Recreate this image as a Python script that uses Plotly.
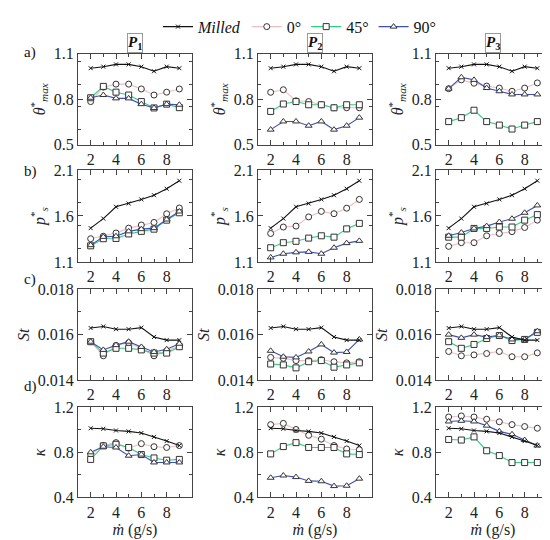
import plotly.graph_objects as go
from plotly.subplots import make_subplots

# mass flow rate (g/s)
m_dot = [2, 3, 4, 5, 6, 7, 8, 9]

# a) theta*_max
theta_milled = [1.005, 1.015, 1.03, 1.03, 1.015, 0.985, 1.015, 1.005]
theta_0 = [
    [0.785, 0.88, 0.90, 0.90, 0.868, 0.828, 0.847, 0.868],
    [0.846, 0.863, 0.79, 0.785, 0.764, 0.744, 0.744, 0.744],
    [0.87, 0.928, 0.906, 0.887, 0.874, 0.853, 0.874, 0.908],
]
theta_45 = [
    [0.81, 0.885, 0.847, 0.828, 0.785, 0.743, 0.768, 0.745],
    [0.72, 0.769, 0.785, 0.764, 0.764, 0.744, 0.764, 0.764],
    [0.653, 0.679, 0.728, 0.653, 0.63, 0.604, 0.63, 0.653],
]
theta_90 = [
    [0.81, 0.828, 0.806, 0.806, 0.768, 0.743, 0.768, 0.764],
    [0.60, 0.654, 0.654, 0.626, 0.654, 0.60, 0.626, 0.679],
    [0.87, 0.945, 0.928, 0.874, 0.853, 0.832, 0.832, 0.832],
]

# b) p*_s
ps_milled = [1.468, 1.572, 1.70, 1.736, 1.78, 1.826, 1.896, 1.983]
ps_0 = [
    [1.353, 1.38, 1.415, 1.468, 1.502, 1.53, 1.624, 1.687],
    [1.41, 1.48, 1.49, 1.59, 1.65, 1.625, 1.685, 1.78],
    [1.27, 1.31, 1.31, 1.385, 1.41, 1.43, 1.475, 1.555],
]
ps_45 = [
    [1.276, 1.353, 1.356, 1.405, 1.433, 1.457, 1.555, 1.635],
    [1.255, 1.31, 1.325, 1.36, 1.385, 1.37, 1.46, 1.52],
    [1.37, 1.37, 1.465, 1.465, 1.48, 1.48, 1.555, 1.615],
]
ps_90 = [
    [1.283, 1.373, 1.38, 1.433, 1.457, 1.468, 1.562, 1.649],
    [1.15, 1.19, 1.205, 1.21, 1.19, 1.255, 1.305, 1.33],
    [1.385, 1.42, 1.465, 1.49, 1.535, 1.57, 1.635, 1.715],
]

# c) St
st_milled = [0.01629, 0.01636, 0.01624, 0.01624, 0.01631, 0.0159, 0.01576, 0.01576]
st_0 = [
    [0.01569, 0.01507, 0.01553, 0.01564, 0.01539, 0.01507, 0.01529, 0.0155],
    [0.0150, 0.01496, 0.01486, 0.01486, 0.0149, 0.01481, 0.01476, 0.01481],
    [0.01526, 0.01507, 0.01511, 0.01517, 0.01526, 0.01503, 0.01503, 0.0152],
]
st_45 = [
    [0.01569, 0.01519, 0.0154, 0.0154, 0.01533, 0.01519, 0.01519, 0.01547],
    [0.01471, 0.01467, 0.01454, 0.01481, 0.01486, 0.01457, 0.01467, 0.01476],
    [0.01569, 0.0154, 0.01557, 0.01583, 0.01596, 0.01574, 0.01579, 0.0161],
]
st_90 = [
    [0.01569, 0.01533, 0.01554, 0.01569, 0.01546, 0.01524, 0.01536, 0.0156],
    [0.01529, 0.01503, 0.0150, 0.01526, 0.01557, 0.01521, 0.01524, 0.01579],
    [0.0160, 0.01586, 0.0160, 0.01589, 0.01597, 0.01579, 0.01579, 0.01615],
]

# d) kappa
k_milled = [1.014, 1.009, 0.994, 0.986, 0.971, 0.937, 0.90, 0.86]
k_0 = [
    [0.78, 0.86, 0.886, 0.837, 0.877, 0.85, 0.843, 0.86],
    [1.046, 1.057, 1.003, 0.951, 0.917, 0.86, 0.83, 0.823],
    [1.114, 1.123, 1.114, 1.094, 1.071, 1.046, 1.029, 1.014],
]
k_45 = [
    [0.737, 0.857, 0.871, 0.843, 0.78, 0.75, 0.73, 0.737],
    [0.786, 0.851, 0.886, 0.843, 0.843, 0.843, 0.786, 0.78],
    [0.914, 0.909, 0.937, 0.814, 0.771, 0.709, 0.709, 0.709],
]
k_90 = [
    [0.80, 0.85, 0.843, 0.77, 0.78, 0.71, 0.71, 0.71],
    [0.574, 0.594, 0.58, 0.546, 0.543, 0.50, 0.503, 0.566],
    [1.074, 1.08, 1.074, 1.037, 0.986, 0.96, 0.909, 0.86],
]

rows = [
    (theta_milled, theta_0, theta_45, theta_90),
    (ps_milled, ps_0, ps_45, ps_90),
    (st_milled, st_0, st_45, st_90),
    (k_milled, k_0, k_45, k_90),
]
y_titles = ["<i>θ</i><sup>*</sup><sub><i>max</i></sub>",
            "<i>p</i><sup>*</sup><sub><i>s</i></sub>",
            "<i>St</i>", "<i>κ</i>"]
y_ranges = [[0.5, 1.1], [1.1, 2.1], [0.014, 0.018], [0.4, 1.2]]
y_dticks = [0.3, 0.5, 0.002, 0.4]
y_formats = [".1f", ".1f", ".3f", ".1f"]
col_titles = ["1", "2", "3"]
row_tags = ["a)", "b)", "c)", "d)"]

names = ["<i>Milled</i>", "0°", "45°", "90°"]
line_colors = ["#111111", "#f2bcbc", "#2fcf7d", "#3d4fb8"]
symbols = ["x-thin", "circle", "square", "triangle-up"]

FONT = "Liberation Serif, Times New Roman, Times, serif"
W, H = 550, 540
col_px = [(70, 184), (250, 364), (428, 542)]
row_px = [(39, 133), (159, 254), (282, 376), (404, 497)]
tag_px = [27, 150, 272, 393]

fig = make_subplots(rows=4, cols=3)

for r, (milled, s0, s45, s90) in enumerate(rows):
    for c in range(3):
        series = [milled, s0[c], s45[c], s90[c]]
        # angled cases first, milled reference drawn on top
        for k in [1, 2, 3, 0]:
            if k == 0:
                marker = dict(symbol="x-thin", size=4,
                              line=dict(color="#111111", width=1))
            else:
                marker = dict(symbol=symbols[k], size=6, color="white",
                              line=dict(color="#333333", width=1))
            fig.add_trace(go.Scatter(
                x=m_dot, y=series[k], mode="lines+markers",
                name=names[k], legendgroup=names[k],
                legendrank=k + 1,
                showlegend=(r == 0 and c == 0),
                line=dict(color=line_colors[k], width=1.1),
                marker=marker,
            ), row=r + 1, col=c + 1)

        n = r * 3 + c + 1
        xa = "xaxis" if n == 1 else f"xaxis{n}"
        ya = "yaxis" if n == 1 else f"yaxis{n}"
        x0, x1 = col_px[c]
        y0, y1 = row_px[r]
        fig.layout[xa].update(
            domain=[x0 / W, x1 / W], range=[1, 10],
            tickvals=[2, 4, 6, 8], ticks="inside", ticklen=5,
            minor=dict(dtick=1, ticks="inside", ticklen=3, tickcolor="#444"),
            showline=True, linecolor="#444", linewidth=1.2, mirror="allticks",
            showgrid=False, zeroline=False, tickcolor="#444",
            tickfont=dict(family=FONT, size=16, color="#222"),
        )
        fig.layout[ya].update(
            domain=[1 - y1 / H, 1 - y0 / H], range=y_ranges[r],
            dtick=y_dticks[r], tick0=y_ranges[r][0], tickformat=y_formats[r],
            ticks="inside", ticklen=5,
            minor=dict(dtick=y_dticks[r] / 2, ticks="inside", ticklen=3,
                       tickcolor="#444"),
            showline=True, linecolor="#444", linewidth=1.2, mirror="allticks",
            showgrid=False, zeroline=False, tickcolor="#444",
            tickfont=dict(family=FONT, size=16, color="#222"),
            title=dict(text=y_titles[r], standoff=4,
                       font=dict(family=FONT, size=16, color="#222")),
        )
        if r == 3:
            fig.layout[xa].title = dict(
                text="<i>ṁ</i> (g/s)", standoff=2,
                font=dict(family=FONT, size=16, color="#222"))

annotations = []
for c in range(3):
    x0, x1 = col_px[c]
    annotations.append(dict(
        x=(x0 + x1) / 2 / W, y=1 - 38 / H, xref="paper", yref="paper",
        xanchor="center", yanchor="bottom",
        text=f"<b><i>P</i><sub>{col_titles[c]}</sub></b>", showarrow=False,
        font=dict(family=FONT, size=15, color="#111"),
        bordercolor="#9a9a9a", borderwidth=1, borderpad=0, bgcolor="white",
    ))
for r, tag in enumerate(row_tags):
    annotations.append(dict(
        x=14 / W, y=1 - tag_px[r] / H, xref="paper", yref="paper", text=tag,
        showarrow=False, font=dict(family=FONT, size=15, color="#111"),
    ))

fig.update_layout(
    width=W, height=H,
    margin=dict(l=0, r=0, t=0, b=0),
    paper_bgcolor="white", plot_bgcolor="white",
    annotations=annotations,
    legend=dict(orientation="h", x=0.53, xanchor="center", y=1.012,
                yanchor="top", font=dict(family=FONT, size=16, color="#111"),
                itemwidth=30, tracegroupgap=0, bgcolor="rgba(0,0,0,0)"),
    font=dict(family=FONT),
)

fig.write_html("out.html")
